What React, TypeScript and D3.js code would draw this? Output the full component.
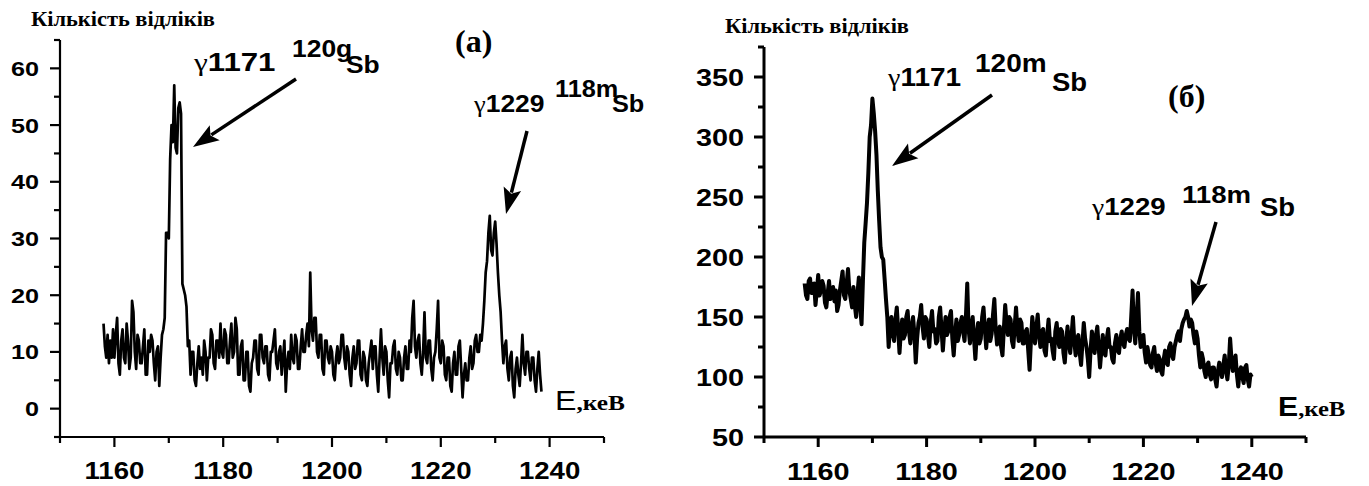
import React from 'react';
import * as d3 from 'd3';

// ---------- data ----------
const E_STEP = 0.25;
const E_START_A = 1158;
const countsA = [
  15, 11, 9, 13, 8, 12, 9, 14, 9, 13, 16, 8, 6, 12, 14, 9,
  8, 15, 12, 7, 9, 19, 17, 10, 7, 13, 12, 8, 8, 11, 14, 6,
  6, 12, 10, 13, 12, 8, 5, 10, 11, 4, 9, 13, 14, 16, 31, 31,
  30, 44, 50, 47, 57, 46, 45, 53, 54, 52, 22, 21, 20, 18, 11, 12,
  6, 10, 10, 5, 4, 8, 11, 7, 9, 6, 12, 10, 5, 9, 9, 14,
  13, 8, 7, 12, 12, 9, 15, 10, 9, 14, 13, 8, 8, 12, 15, 9,
  10, 16, 14, 6, 6, 11, 12, 5, 5, 10, 10, 4, 3, 8, 9, 12,
  12, 7, 6, 13, 13, 9, 8, 11, 11, 6, 5, 10, 10, 12, 14, 8,
  7, 10, 11, 6, 9, 12, 3, 8, 10, 7, 13, 9, 8, 13, 12, 7,
  7, 11, 14, 10, 10, 13, 15, 11, 24, 14, 12, 16, 16, 10, 9, 13,
  13, 7, 6, 12, 12, 9, 8, 11, 10, 6, 5, 9, 11, 8, 9, 13,
  13, 9, 7, 11, 10, 6, 4, 9, 11, 7, 8, 12, 12, 6, 5, 10,
  9, 5, 4, 8, 10, 12, 7, 11, 11, 6, 3, 9, 14, 9, 6, 11,
  10, 5, 2, 8, 8, 11, 12, 7, 6, 10, 9, 5, 5, 9, 11, 7,
  7, 12, 10, 16, 19, 11, 9, 12, 13, 8, 6, 10, 17, 9, 8, 12,
  12, 7, 5, 9, 10, 14, 19, 9, 8, 12, 11, 6, 5, 9, 9, 4,
  3, 8, 10, 6, 6, 11, 12, 7, 2, 6, 8, 5, 5, 9, 11, 7,
  8, 12, 13, 10, 10, 13, 12, 15, 19, 24, 26, 31, 34, 28, 27, 31,
  33, 29, 24, 20, 17, 12, 8, 11, 12, 7, 5, 9, 10, 4, 2, 7,
  9, 6, 4, 8, 13, 8, 6, 10, 10, 7, 5, 9, 9, 5, 3, 7,
  10, 6, 3,
];
const E_START_B = 1157.5;
const countsB = [
  178, 168,
  165, 180, 182, 170, 170, 178, 160, 172, 185, 168, 172, 180, 176, 162, 158, 170,
  180, 165, 168, 175, 163, 172, 155, 160, 172, 180, 188, 168, 165, 178, 190, 172,
  165, 158, 175, 160, 150, 170, 183, 158, 144, 180, 212, 228, 245, 270, 300, 310,
  332, 320, 305, 285, 255, 230, 208, 200, 198, 182, 165, 150, 125, 142, 150, 136,
  130, 148, 158, 140, 120, 138, 148, 132, 135, 150, 155, 138, 128, 142, 150, 136,
  112, 132, 145, 150, 160, 142, 132, 150, 148, 135, 125, 145, 155, 138, 140, 128,
  130, 150, 158, 140, 122, 138, 150, 135, 138, 150, 155, 132, 118, 135, 148, 130,
  135, 145, 150, 138, 130, 150, 178, 140, 128, 142, 150, 132, 115, 135, 145, 128,
  132, 150, 158, 140, 124, 140, 148, 130, 136, 152, 165, 140, 127, 138, 142, 125,
  118, 140, 160, 145, 135, 150, 148, 130, 125, 142, 158, 140, 130, 148, 145, 128,
  128, 138, 140, 122, 106, 130, 150, 138, 128, 142, 152, 135, 125, 138, 140, 122,
  118, 135, 148, 130, 132, 122, 115, 138, 145, 130, 125, 140, 138, 120, 112, 130,
  142, 128, 120, 135, 150, 130, 118, 132, 135, 120, 110, 128, 145, 132, 125, 115,
  100, 122, 138, 128, 120, 135, 142, 125, 108, 122, 135, 120, 118, 132, 140, 125,
  125, 115, 112, 128, 135, 122, 120, 132, 138, 128, 125, 135, 140, 132, 130, 150,
  172, 140, 128, 150, 170, 138, 125, 130, 135, 120, 112, 125, 118, 110, 108, 120,
  125, 112, 105, 118, 115, 105, 102, 115, 122, 112, 110, 125, 128, 118, 115, 125,
  130, 135, 138, 130, 140, 145, 148, 150, 155, 150, 142, 148, 145, 135, 128, 138,
  132, 118, 108, 120, 115, 105, 100, 110, 112, 102, 98, 108, 108, 98, 92, 105,
  112, 105, 100, 110, 118, 105, 98, 110, 132, 115, 105, 112, 118, 102, 92, 105,
  108, 100, 95, 108, 110, 98, 92, 102,
  100,
];
const xMajor = [1160, 1180, 1200, 1220, 1240];
const xMinor = [1150, 1170, 1190, 1210, 1230, 1250];
const yMajorA = [0, 10, 20, 30, 40, 50, 60];
const yMinorA = [-5, 5, 15, 25, 35, 45, 55, 65];
const yMajorB = [50, 100, 150, 200, 250, 300, 350];
const yMinorB = [75, 125, 175, 225, 275, 325, 375];
const yTitle = 'Кількість відліків';

const SANS = "'Liberation Sans', Arial, sans-serif";
const SERIF = "'Liberation Serif', 'Times New Roman', serif";

type TProps = { x: number; y: number; sx?: number; anchor?: string; children: React.ReactNode; size: number; family?: string; weight?: string | number };
function T({ x, y, sx = 1, anchor = 'start', children, size, family = SANS, weight = 'bold' }: TProps) {
  return (
    <g transform={`translate(${x},${y}) scale(${sx},1)`}>
      <text x={0} y={0} textAnchor={anchor as any} fontSize={size} fontFamily={family} fontWeight={weight} fill="#000">
        {children}
      </text>
    </g>
  );
}

function Arrow({ x1, y1, x2, y2, w }: { x1: number; y1: number; x2: number; y2: number; w: number }) {
  const dx = x2 - x1, dy = y2 - y1;
  const L = Math.hypot(dx, dy);
  const ux = dx / L, uy = dy / L;
  const hl = 26, hw = 9;
  const bx = x2 - ux * hl, by = y2 - uy * hl;
  const px = -uy, py = ux;
  const pts = [[x2, y2], [bx + px * hw, by + py * hw], [bx + ux * 5, by + uy * 5], [bx - px * hw, by - py * hw]];
  return (
    <g>
      <line x1={x1} y1={y1} x2={bx + ux * 4} y2={by + uy * 4} stroke="#000" strokeWidth={w} />
      <polygon points={pts.map(p => p.join(',')).join(' ')} fill="#000" />
    </g>
  );
}

type PanelProps = {
  counts: number[]; start: number; xr: [number, number]; yd: [number, number]; yr: [number, number];
  yMajor: number[]; yMinor: number[]; lineW: number; axisW: number; yFont: number; ySx: number; yLabelGap: number;
  xFont: number; xSx: number; xLabelY: number;
};
function Panel(p: PanelProps) {
  const x = d3.scaleLinear().domain([1150, 1250]).range(p.xr);
  const y = d3.scaleLinear().domain(p.yd).range(p.yr);
  const line = d3.line<number>().x((_, i) => x(p.start + i * E_STEP)).y(d => y(d));
  const x0 = p.xr[0];
  const yb = p.yr[0];
  return (
    <g>
      <path d={line(p.counts) || ''} fill="none" stroke="#000" strokeWidth={p.lineW} strokeLinejoin="round" />
      <line x1={x0} y1={p.yr[1]} x2={x0} y2={yb} stroke="#000" strokeWidth={p.axisW} />
      <line x1={x0} y1={yb} x2={p.xr[1]} y2={yb} stroke="#000" strokeWidth={p.axisW} />
      {p.yMajor.map(v => (
        <g key={'ym' + v}>
          <line x1={x0 - 10} x2={x0} y1={y(v)} y2={y(v)} stroke="#000" strokeWidth={p.axisW} />
          <T x={x0 - p.yLabelGap} y={y(v) + p.yFont * 0.36} size={p.yFont} sx={p.ySx} anchor="end">{v}</T>
        </g>
      ))}
      {p.yMinor.map(v => (
        <line key={'yn' + v} x1={x0 - 6} x2={x0} y1={y(v)} y2={y(v)} stroke="#000" strokeWidth={p.axisW} />
      ))}
      {xMajor.map(v => (
        <g key={'xm' + v}>
          <line x1={x(v)} x2={x(v)} y1={yb} y2={yb + 10} stroke="#000" strokeWidth={p.axisW} />
          <T x={x(v)} y={p.xLabelY} size={p.xFont} sx={p.xSx} anchor="middle">{v}</T>
        </g>
      ))}
      {xMinor.map(v => (
        <line key={'xn' + v} x1={x(v)} x2={x(v)} y1={yb} y2={yb + 6} stroke="#000" strokeWidth={p.axisW} />
      ))}
    </g>
  );
}

export default function App() {
  return (
    <svg width={1369} height={486} style={{ position: 'absolute', left: 0, top: 0, background: '#fff' }}>
      <rect width={1369} height={486} fill="#fff" />
      {/* Panel (a) */}
      <Panel counts={countsA} start={E_START_A} xr={[60, 604]} yd={[-5, 65]} yr={[437, 40]}
        yMajor={yMajorA} yMinor={yMinorA} lineW={2.7} axisW={2.2} yFont={21} ySx={1.2} yLabelGap={21}
        xFont={24} xSx={1.15} xLabelY={479} />
      <T x={31} y={26} size={20} family={SERIF} sx={1.12}>{yTitle}</T>
      <T x={455} y={52} size={32} family={SERIF}>(a)</T>
      <T x={194} y={71} size={26} sx={1.2}><tspan fontFamily={SERIF} fontWeight="normal">γ</tspan>1171</T>
      <T x={292} y={57} size={23} sx={1.15}>120g</T>
      <T x={346} y={73} size={24} sx={1.1}>Sb</T>
      <Arrow x1={296} y1={79} x2={193} y2={147} w={3.5} />
      <T x={474} y={112} size={23} sx={1.15}><tspan fontFamily={SERIF} fontWeight="normal">γ</tspan>1229</T>
      <T x={555} y={97} size={23} sx={1.1}>118m</T>
      <T x={612} y={112} size={23} sx={1.1}>Sb</T>
      <Arrow x1={527} y1={131} x2={506} y2={214} w={3.5} />
      <T x={555} y={410} size={28} weight="normal" sx={1.15}>E<tspan fontFamily={SERIF} fontWeight="bold" fontSize={22}>,кеВ</tspan></T>

      {/* Panel (б) */}
      <Panel counts={countsB} start={E_START_B} xr={[764, 1306]} yd={[50, 375]} yr={[437, 47]}
        yMajor={yMajorB} yMinor={yMinorB} lineW={4} axisW={3} yFont={24} ySx={1.2} yLabelGap={20}
        xFont={24} xSx={1.2} xLabelY={480} />
      <T x={725} y={33} size={20} family={SERIF} sx={1.12}>{yTitle}</T>
      <T x={1168} y={107} size={32} family={SERIF}>(б)</T>
      <T x={888} y={86} size={25} sx={1.12}><tspan fontFamily={SERIF} fontWeight="normal">γ</tspan>1171</T>
      <T x={975} y={72} size={25} sx={1.12}>120m</T>
      <T x={1052} y={91} size={25} sx={1.1}>Sb</T>
      <Arrow x1={992} y1={95} x2={892} y2={166} w={3.5} />
      <T x={1092} y={215} size={24} sx={1.15}><tspan fontFamily={SERIF} fontWeight="normal">γ</tspan>1229</T>
      <T x={1182} y={203} size={24} sx={1.15}>118m</T>
      <T x={1260} y={216} size={25} sx={1.1}>Sb</T>
      <Arrow x1={1216} y1={222} x2={1192} y2={306} w={3.5} />
      <T x={1278} y={416} size={27} sx={1.12}>E<tspan fontFamily={SERIF} fontSize={22}>,кеВ</tspan></T>
    </svg>
  );
}
